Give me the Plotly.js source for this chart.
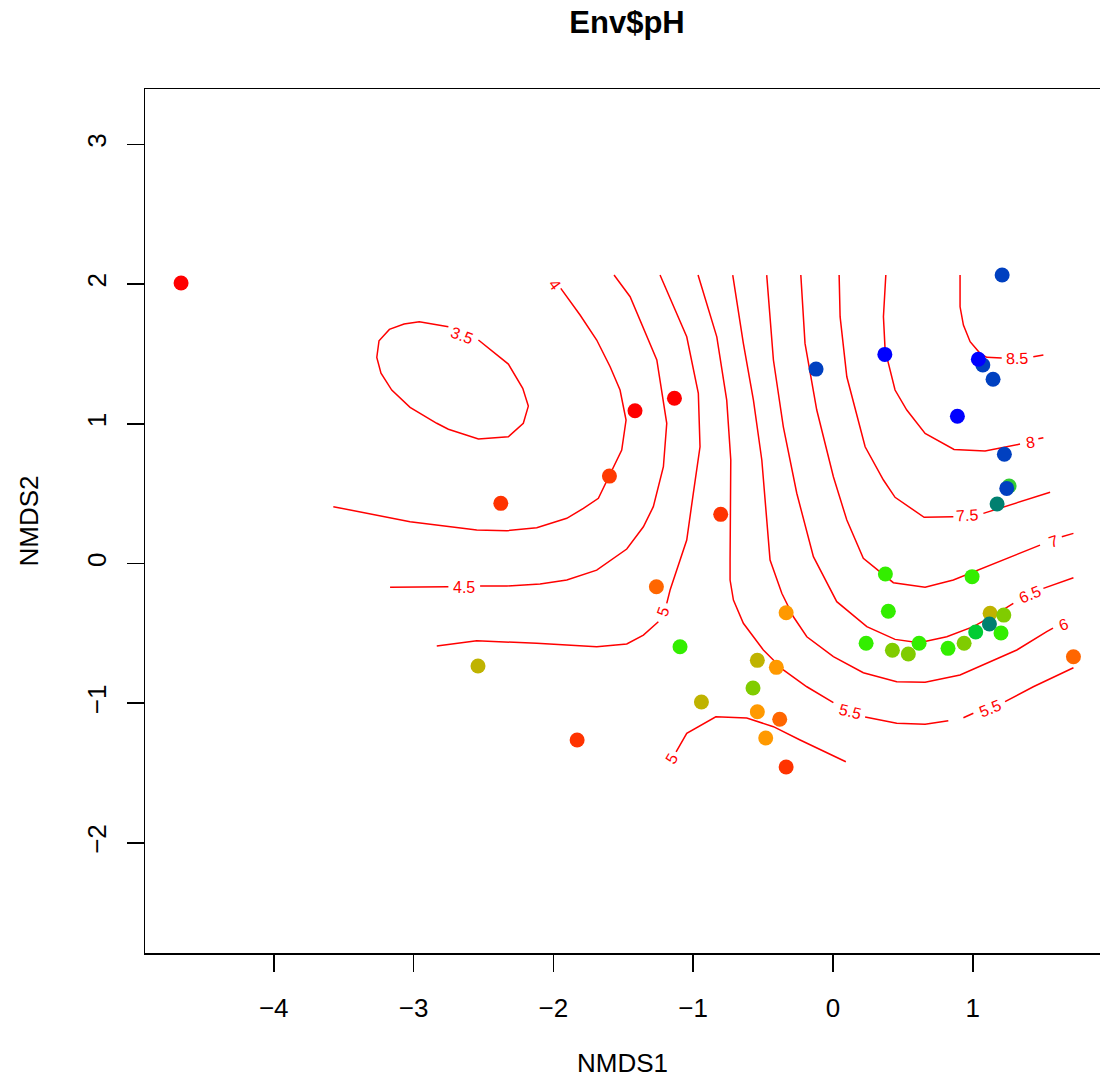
<!DOCTYPE html>
<html>
<head>
<meta charset="utf-8">
<script src="https://cdn.plot.ly/plotly-3.0.1.min.js"></script>
<style>html,body{margin:0;padding:0;background:#fff;overflow:hidden}</style>
</head>
<body>
<div id="chart" style="width:1100px;height:1082px"></div>
<script>
// ---- Site scores (NMDS1, NMDS2) and point colours (pH) ----
const siteX = [-4.663,-2.376,-1.599,-1.416,-1.134,-0.803,-1.263,-1.094,-2.539,-0.941,-1.830,-0.541,-0.405,-0.335,-0.572,-0.541,-0.381,-0.481,-0.335,
  -0.121,0.371,1.210,1.072,1.040,1.145,0.890,1.226,1.260,1.243,1.174,
  0.375,0.995,0.396,0.237,0.616,0.425,0.539,0.823,0.938,1.124,1.222,1.021,1.202,1.119,1.720];
const siteY = [2.008,0.431,0.626,1.094,1.183,0.352,-0.166,-0.596,-0.734,-0.991,-1.263,-0.693,-0.743,-0.352,-0.891,-1.061,-1.115,-1.249,-1.457,
  1.392,1.497,2.065,1.421,1.462,1.319,1.054,0.782,0.555,0.538,0.426,
  -0.075,-0.094,-0.342,-0.571,-0.571,-0.621,-0.648,-0.607,-0.571,-0.356,-0.369,-0.490,-0.497,-0.433,-0.667];
const siteColour = ['#FF0000','#FF3300','#FF3A00','#FF0000','#FF0000','#FF3300','#FF6600','#33EE00','#BFB300','#BFB300','#FF3300','#BFB300','#FF9900','#FF9900','#80CC00','#FF9900','#FF6600','#FF9900','#FF3300',
  '#0040C0','#0000FF','#0040C0','#0040C0','#0000FF','#0040C0','#0000FF','#0040C0','#33CC33','#0040C0','#008070',
  '#33EE00','#33EE00','#33EE00','#33EE00','#33EE00','#80CC00','#80CC00','#33EE00','#80CC00','#BFB300','#80CC00','#00CC33','#33EE00','#008070','#FF6600'];

// ---- Fitted surface contour lines (pH levels), null = break for a label ----
const c35x = [-2.536,-2.322,-2.219,-2.179,-2.215,-2.322,-2.536,-2.751,-2.834,-3.025,-3.156,-3.233,-3.263,-3.247,-3.173,-3.068,-2.959,-2.751];
const c35y = [1.600,1.428,1.254,1.127,1.004,0.908,0.891,0.961,1.004,1.118,1.242,1.362,1.476,1.595,1.676,1.714,1.731,1.695];
const c40x = [-1.947,-1.809,-1.690,-1.594,-1.523,-1.480,-1.511,-1.599,-1.678,-1.785,-1.904,-2.119,-2.333,-2.548,-3.025,-3.574];
const c40y = [1.970,1.779,1.600,1.409,1.242,1.027,0.812,0.626,0.467,0.395,0.324,0.256,0.235,0.240,0.299,0.407];
const c45x = [-1.566,-1.451,-1.260,-1.189,-1.213,-1.285,-1.356,-1.475,-1.690,-1.904,-2.095,-2.333,-2.524,null,-2.751,-3.168];
const c45y = [2.065,1.910,1.457,1.004,0.693,0.407,0.263,0.104,-0.047,-0.118,-0.147,-0.161,-0.161,null,-0.166,-0.170];
const c50x = [-1.237,-1.046,-0.963,-0.951,-0.999,-1.046,-1.165,-1.189,null,-1.249,-1.356,-1.475,-1.690,-2.119,-2.548,-2.834,null,
  -1.122,-1.046,-0.838,-0.617,-0.426,-0.235,0.092];
const c50y = [2.065,1.623,1.218,0.836,0.503,0.168,-0.190,-0.285,null,-0.417,-0.512,-0.576,-0.596,-0.571,-0.553,-0.591,null,
  -1.349,-1.215,-1.097,-1.106,-1.168,-1.263,-1.419];
const c55x = [-0.965,-0.831,-0.760,-0.731,-0.736,-0.736,-0.712,-0.641,-0.498,-0.355,-0.187,0.003,null,0.230,0.456,0.659,0.825,null,0.933,1.004,null,1.231,1.433,1.720];
const c55y = [2.065,1.623,1.170,0.741,0.025,-0.118,-0.261,-0.428,-0.619,-0.762,-0.882,-0.996,null,-1.099,-1.144,-1.151,-1.125,null,-1.104,-1.072,null,-0.989,-0.882,-0.746];
const c60x = [-0.717,-0.641,-0.569,-0.509,-0.450,-0.402,-0.366,-0.283,-0.187,0.003,0.217,0.456,0.659,0.909,1.100,1.315,1.529,1.574];
const c60y = [2.065,1.576,1.170,0.741,0.025,-0.118,-0.213,-0.381,-0.524,-0.667,-0.782,-0.846,-0.850,-0.798,-0.714,-0.619,-0.488,-0.462];
const c65x = [-0.474,-0.426,-0.355,-0.259,-0.140,0.027,0.242,0.444,0.616,0.814,1.004,1.195,1.290,null,1.505,1.720];
const c65y = [2.065,1.457,0.979,0.503,0.049,-0.273,-0.452,-0.543,-0.567,-0.524,-0.452,-0.345,-0.285,null,-0.178,-0.102];
const c70x = [-0.230,-0.200,-0.116,0.003,0.099,0.217,0.432,0.659,0.861,1.100,1.315,1.481,null,1.637,1.720];
const c70y = [2.065,1.576,1.099,0.621,0.311,0.037,-0.137,-0.170,-0.118,-0.023,0.068,0.132,null,0.192,0.216];
const c75x = [0.044,0.051,0.099,0.230,0.361,0.444,0.652,0.861,null,1.076,1.553];
const c75y = [2.065,1.767,1.337,0.836,0.598,0.474,0.331,0.335,null,0.359,0.510];
const c80x = [0.378,0.361,0.373,0.396,0.444,0.528,0.659,0.866,1.088,1.338,null,1.469,1.505];
const c80y = [2.065,1.767,1.528,1.433,1.242,1.099,0.932,0.817,0.805,0.855,null,0.893,0.901];
const c85x = [0.909,0.909,0.933,0.981,1.052,1.100,1.207,null,1.433,1.505];
const c85y = [2.065,1.838,1.707,1.588,1.505,1.476,1.471,null,1.480,1.492];

// ---- Contour labels ----
const labelText  = ['3.5','4','4.5','5','5','5.5','5.5','6','6.5','7','7.5','8','8.5'];
const labelX     = [-2.653,-1.988,-2.639,-1.213,-1.153,0.122,1.124,1.648,1.410,1.577,0.957,1.410,1.315];
const labelY     = [1.636,2.001,-0.168,-0.345,-1.394,-1.061,-1.037,-0.433,-0.225,0.161,0.347,0.865,1.469];
const labelAngle = [20,54,0,-70,-60,14,-22,-20,-22,-18,-3,-8,-2];

// ---- Axis ticks ----
const xTicks = [-4,-3,-2,-1,0,1];
const yTicks = [-2,-1,0,1,2,3];

const lineStyle = {color:'#FF0000', width:1.5};
const contours = [[c35x,c35y],[c40x,c40y],[c45x,c45y],[c50x,c50y],[c55x,c55y],[c60x,c60y],[c65x,c65y],[c70x,c70y],[c75x,c75y],[c80x,c80y],[c85x,c85y]];
const traces = contours.map(c => ({
  x:c[0], y:c[1], type:'scatter', mode:'lines', line:lineStyle, connectgaps:false, hoverinfo:'skip', showlegend:false
}));
traces.push({
  x:siteX, y:siteY, type:'scatter', mode:'markers', showlegend:false,
  marker:{color:siteColour, size:15, line:{width:0}}
});

const FONT = 'Liberation Sans, Arial, Helvetica, sans-serif';
const annotations = labelText.map((t,i) => ({
  x:labelX[i], y:labelY[i], xref:'x', yref:'y', text:t, showarrow:false,
  textangle:labelAngle[i], font:{family:FONT, size:16, color:'#FF0000'}
}));

const layout = {
  width:1100, height:1082,
  margin:{l:145, r:0, t:89, b:129, pad:0},
  paper_bgcolor:'#fff', plot_bgcolor:'#fff',
  font:{family:FONT, color:'#000'},
  title:{text:'<b>Env$pH</b>', font:{family:FONT, size:31, color:'#000'},
    x:627/1100, xref:'container', xanchor:'center', y:1-22/1082, yref:'container', yanchor:'middle'},
  xaxis:{range:[-4.921,1.910], tickvals:xTicks, ticktext:xTicks.map(v=>v<0?'\u2212'+(-v):String(v)),
    showgrid:false, zeroline:false, showline:true, mirror:true, linecolor:'#000', linewidth:1.5,
    ticks:'outside', ticklen:17, tickwidth:1.5, tickcolor:'#000', ticklabelstandoff:14,
    tickfont:{family:FONT, size:26, color:'#000'},
    title:{text:'NMDS1', font:{family:FONT, size:26, color:'#000'}, standoff:32}},
  yaxis:{range:[-2.788,3.397], tickvals:yTicks, ticktext:yTicks.map(v=>v<0?'\u2212'+(-v):String(v)),
    showgrid:false, zeroline:false, showline:true, mirror:false, linecolor:'#000', linewidth:1.5,
    ticks:'outside', ticklen:17, tickwidth:1.5, tickcolor:'#000', tickangle:-90, ticklabelstandoff:10,
    tickfont:{family:FONT, size:26, color:'#000'},
    title:{text:'NMDS2', font:{family:FONT, size:26, color:'#000'}, standoff:36}},
  annotations:annotations
};

Plotly.newPlot('chart', traces, layout, {staticPlot:true, displayModeBar:false});
</script>
</body>
</html>
